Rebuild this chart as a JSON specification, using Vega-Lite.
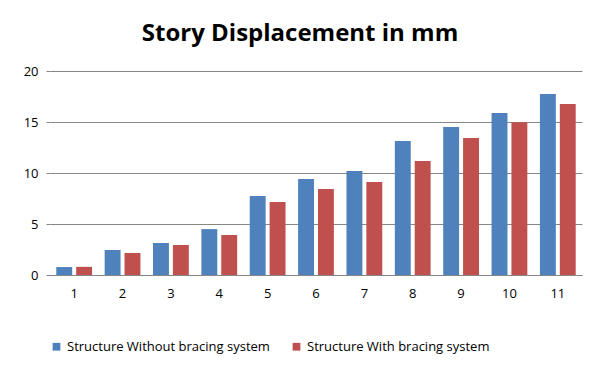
{
  "$schema": "https://vega.github.io/schema/vega-lite/v6.json",
  "autosize": "none",
  "width": 532,
  "height": 204,
  "padding": {"left": 50, "top": 71, "right": 21, "bottom": 97},
  "background": "white",
  "title": {
    "text": "Story Displacement in mm",
    "font": "Open Sans",
    "fontSize": 24,
    "fontWeight": "bold",
    "color": "#000000",
    "anchor": "middle",
    "frame": "group",
    "dx": -16,
    "offset": 19
  },
  "data": {
    "values": [
      {"story": "1", "series": "Structure Without bracing system", "disp": 0.78},
      {"story": "1", "series": "Structure With bracing system", "disp": 0.8},
      {"story": "2", "series": "Structure Without bracing system", "disp": 2.45},
      {"story": "2", "series": "Structure With bracing system", "disp": 2.16},
      {"story": "3", "series": "Structure Without bracing system", "disp": 3.14},
      {"story": "3", "series": "Structure With bracing system", "disp": 2.94},
      {"story": "4", "series": "Structure Without bracing system", "disp": 4.5},
      {"story": "4", "series": "Structure With bracing system", "disp": 3.92},
      {"story": "5", "series": "Structure Without bracing system", "disp": 7.75},
      {"story": "5", "series": "Structure With bracing system", "disp": 7.16},
      {"story": "6", "series": "Structure Without bracing system", "disp": 9.41},
      {"story": "6", "series": "Structure With bracing system", "disp": 8.43},
      {"story": "7", "series": "Structure Without bracing system", "disp": 10.2},
      {"story": "7", "series": "Structure With bracing system", "disp": 9.12},
      {"story": "8", "series": "Structure Without bracing system", "disp": 13.14},
      {"story": "8", "series": "Structure With bracing system", "disp": 11.18},
      {"story": "9", "series": "Structure Without bracing system", "disp": 14.51},
      {"story": "9", "series": "Structure With bracing system", "disp": 13.43},
      {"story": "10", "series": "Structure Without bracing system", "disp": 15.88},
      {"story": "10", "series": "Structure With bracing system", "disp": 14.97},
      {"story": "11", "series": "Structure Without bracing system", "disp": 17.75},
      {"story": "11", "series": "Structure With bracing system", "disp": 16.76}
    ]
  },
  "mark": {"type": "bar"},
  "encoding": {
    "x": {
      "field": "story",
      "type": "ordinal",
      "sort": null,
      "scale": {"paddingInner": 0.26, "paddingOuter": 0.13},
      "axis": {
        "title": null,
        "labelAngle": 0,
        "labelFont": "Open Sans",
        "labelFontSize": 13,
        "labelColor": "#000000",
        "labelPadding": 12,
        "ticks": false,
        "domainColor": "#868686",
        "grid": false
      }
    },
    "xOffset": {
      "field": "series",
      "type": "nominal",
      "sort": ["Structure Without bracing system", "Structure With bracing system"],
      "scale": {"paddingInner": 0.2}
    },
    "y": {
      "field": "disp",
      "type": "quantitative",
      "scale": {"domain": [0, 20]},
      "axis": {
        "title": null,
        "values": [0, 5, 10, 15, 20],
        "labelFont": "Open Sans",
        "labelFontSize": 13,
        "labelColor": "#000000",
        "labelPadding": 8,
        "tickSize": 4,
        "tickColor": "#868686",
        "domain": false,
        "gridColor": "#868686",
        "gridWidth": 1
      }
    },
    "color": {
      "field": "series",
      "type": "nominal",
      "sort": ["Structure Without bracing system", "Structure With bracing system"],
      "scale": {"range": ["#4F81BD", "#C0504D"]},
      "legend": {
        "title": null,
        "orient": "bottom",
        "direction": "horizontal",
        "symbolType": "square",
        "symbolSize": 60,
        "symbolStrokeWidth": 0,
        "labelFont": "Open Sans",
        "labelFontSize": 13,
        "labelColor": "#000000",
        "columnPadding": 20,
        "offset": 40,
        "labelLimit": 300
      }
    }
  },
  "config": {"view": {"stroke": null}}
}
